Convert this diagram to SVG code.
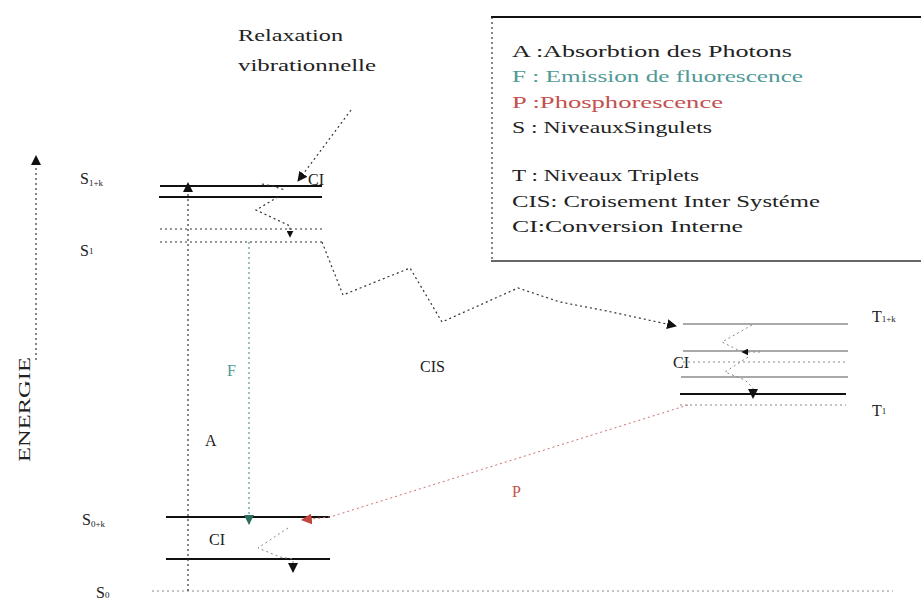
<svg xmlns="http://www.w3.org/2000/svg" width="921" height="602" viewBox="0 0 921 602">
<defs>
<style>
text{font-family:"Liberation Serif","DejaVu Serif",serif;fill:#222}
.lg{font-size:17px}
.lab{font-size:16px}
.sub{font-size:9px}
.solid{stroke:#111;stroke-width:2;fill:none}
.thin{stroke:#555;stroke-width:1.2;fill:none}
.dot{stroke:#333;stroke-width:1.2;stroke-dasharray:2 3;fill:none}
.dotl{stroke:#888;stroke-width:1;stroke-dasharray:2 3;fill:none}
.teal{fill:#4f9a96}
.red{fill:#c4504e}
</style>
<marker id="ab" viewBox="0 0 10 10" refX="9" refY="5" markerWidth="7" markerHeight="7" orient="auto" markerUnits="userSpaceOnUse"><path d="M0,0L10,5L0,10z" fill="#111"/></marker>
<marker id="abs" viewBox="0 0 10 10" refX="9" refY="5" markerWidth="10" markerHeight="10" orient="auto" markerUnits="userSpaceOnUse"><path d="M0,0L10,5L0,10z" fill="#111"/></marker>
<marker id="at" viewBox="0 0 10 10" refX="9" refY="5" markerWidth="10" markerHeight="10" orient="auto" markerUnits="userSpaceOnUse"><path d="M0,0L10,5L0,10z" fill="#2d6e5e"/></marker>
<marker id="ar" viewBox="0 0 10 10" refX="9" refY="5" markerWidth="11" markerHeight="11" orient="auto" markerUnits="userSpaceOnUse"><path d="M0,0L10,5L0,10z" fill="#c4453e"/></marker>
</defs>
<rect width="921" height="602" fill="#fff"/>

<g id="axis">
<line x1="36" y1="360" x2="36" y2="156" class="dot" marker-end="url(#abs)"/>
<text class="lab" transform="translate(30,462) rotate(-90)" textLength="105" lengthAdjust="spacingAndGlyphs">ENERGIE</text>
</g>

<g id="title-relaxation">
<text class="lab" x="238" y="41" textLength="105" lengthAdjust="spacingAndGlyphs">Relaxation</text>
<text class="lab" x="238" y="71" textLength="138" lengthAdjust="spacingAndGlyphs">vibrationnelle</text>
</g>

<g id="legend">
<line x1="491" y1="17" x2="921" y2="17" stroke="#111" stroke-width="2"/>
<line x1="492" y1="17" x2="492" y2="261" class="dot"/>
<line x1="491" y1="261" x2="921" y2="261" stroke="#333" stroke-width="1.5"/>
<text class="lg" x="512" y="57" textLength="280" lengthAdjust="spacingAndGlyphs">A :Absorbtion des Photons</text>
<text class="lg teal" x="512" y="82" textLength="291" lengthAdjust="spacingAndGlyphs">F : Emission de fluorescence</text>
<text class="lg red" x="512" y="108" textLength="211" lengthAdjust="spacingAndGlyphs">P :Phosphorescence</text>
<text class="lg" x="512" y="133" textLength="200" lengthAdjust="spacingAndGlyphs">S : NiveauxSingulets</text>
<text class="lg" x="512" y="181" textLength="187" lengthAdjust="spacingAndGlyphs">T : Niveaux Triplets</text>
<text class="lg" x="512" y="207" textLength="308" lengthAdjust="spacingAndGlyphs">CIS: Croisement Inter Systéme</text>
<text class="lg" x="512" y="232" textLength="231" lengthAdjust="spacingAndGlyphs">CI:Conversion Interne</text>
</g>

<g id="level-S1k">
<text class="lab" x="80" y="184">S<tspan class="sub" dy="2">1+k</tspan></text>
<line x1="160" y1="186" x2="322" y2="186" class="solid"/>
<line x1="159" y1="197" x2="322" y2="197" class="solid"/>
<line x1="160" y1="229" x2="322" y2="229" class="dot"/>
</g>
<g id="level-S1">
<text class="lab" x="80" y="256">S<tspan class="sub" dy="-2">1</tspan></text>
<line x1="160" y1="242" x2="322" y2="242" class="dot"/>
</g>
<g id="level-S0k">
<text class="lab" x="82" y="525">S<tspan class="sub" dy="2">0+k</tspan></text>
<line x1="166" y1="517" x2="330" y2="517" class="solid"/>
<line x1="166" y1="559" x2="330" y2="559" class="solid"/>
</g>
<g id="level-S0">
<text class="lab" x="96" y="598">S<tspan class="sub" dy="0">0</tspan></text>
<line x1="152" y1="591" x2="893" y2="591" class="dotl"/>
</g>
<g id="level-T1k">
<text class="lab" x="872" y="322">T<tspan class="sub" dy="0">1+k</tspan></text>
<line x1="683" y1="324" x2="848" y2="324" class="thin"/>
<line x1="683" y1="351" x2="848" y2="351" class="thin"/>
<line x1="683" y1="362" x2="848" y2="362" class="dotl"/>
<line x1="681" y1="377" x2="848" y2="377" class="thin"/>
</g>
<g id="level-T1">
<text class="lab" x="872" y="416">T<tspan class="sub" dy="-2">1</tspan></text>
<line x1="680" y1="394" x2="846" y2="394" class="solid" stroke="#333"/>
<line x1="680" y1="405" x2="846" y2="405" class="dotl"/>
</g>

<g id="connectors">
<line x1="188" y1="591" x2="188" y2="183" class="dot" marker-end="url(#abs)"/>
<line x1="249" y1="242" x2="249" y2="524" stroke="#4f9a96" stroke-width="1.2" stroke-dasharray="2 3" marker-end="url(#at)"/>
<line x1="351" y1="110" x2="298" y2="181" class="dot" marker-end="url(#abs)"/>
<polyline points="262,184 272,186 285,190" class="dot"/>
<polyline points="278,197 256,210 290,226 290,237" class="dot" marker-end="url(#ab)"/>
<polyline points="322,242 343,295 410,268 442,322 518,288 560,302 607,311 676,326" class="dot" marker-end="url(#abs)"/>
<polyline points="752,325 722,342 738,350 750,352" class="dotl"/>
<polyline points="760,352 742,352" class="dotl" marker-end="url(#ab)"/>
<polyline points="748,357 725,372 745,380 753,388 753,398" class="dotl" marker-end="url(#abs)"/>
<polyline points="688,405 330,517 302,520" stroke="#d07070" stroke-width="1" stroke-dasharray="2 3" fill="none" marker-end="url(#ar)"/>
<polyline points="288,528 258,548 280,557 293,559 293,572" class="dotl" marker-end="url(#abs)"/>
</g>

<g id="labels">
<text class="lab" x="205" y="446">A</text>
<text class="lab teal" x="227" y="376">F</text>
<text class="lab" x="308" y="185">CI</text>
<text class="lab" x="420" y="372">CIS</text>
<text class="lab" x="673" y="368">CI</text>
<text class="lab red" x="512" y="497">P</text>
<text class="lab" x="209" y="545">CI</text>
</g>
</svg>
